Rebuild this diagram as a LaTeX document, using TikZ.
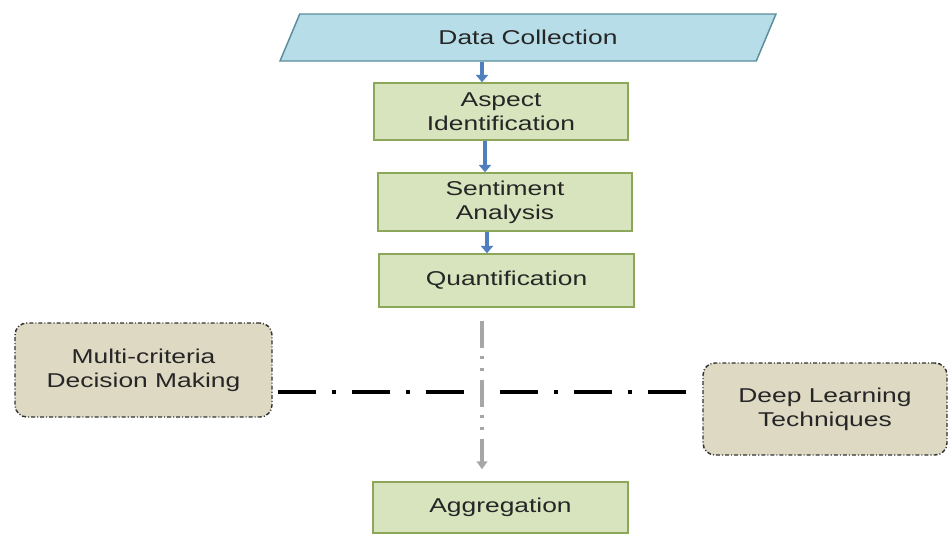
\documentclass[tikz,border=0pt]{standalone}
\usepackage{fontspec}
\setmainfont{Liberation Sans}[FakeStretch=1.32]
\usepackage{xcolor}
\usetikzlibrary{arrows.meta,shapes.geometric}

\definecolor{boxgreen}{HTML}{D7E4BD}
\definecolor{linegreen}{HTML}{8CA65A}
\definecolor{boxblue}{HTML}{B7DDE8}
\definecolor{lineblue}{HTML}{5B8D9C}
\definecolor{boxbeige}{HTML}{DDD9C3}
\definecolor{flowblue}{HTML}{4F7FBF}
\definecolor{guidegray}{HTML}{A6A6A6}
\definecolor{txtgray}{HTML}{262626}

\tikzset{
  stage/.style={draw=linegreen, fill=boxgreen, line width=1.1pt, inner sep=2pt,
    align=center, text=txtgray, font=\fontsize{15}{18}\selectfont},
  method/.style={draw=black!80, fill=boxbeige, line width=1.1pt, rounded corners=9pt,
    dash pattern=on 3pt off 1.5pt on 0.8pt off 1.5pt, align=center, text=txtgray,
    font=\fontsize{15}{18}\selectfont},
  flow/.style={draw=flowblue, line width=3pt, -{Triangle[width=9pt,length=5.5pt]}},
  guide/.style={draw=guidegray, line width=3pt,
    dash pattern=on 20.25pt off 6pt on 2.25pt off 6.75pt on 2.25pt off 6.75pt,
    -{Triangle[width=8pt,length=6pt]}},
  axisline/.style={draw=black, line width=2.5pt,
    dash pattern=on 28.5pt off 12pt on 3pt off 12pt}
}

\begin{document}
\begin{tikzpicture}[x=0.75pt,y=-0.75pt]

\useasboundingbox (0,0) rectangle (949,536);

% main pipeline
\node[trapezium, trapezium left angle=71, trapezium right angle=109,
  trapezium stretches=true, draw=lineblue, fill=boxblue, line width=1.1pt,
  minimum width=372pt, minimum height=35.25pt, text=txtgray,
  font=\fontsize{15}{18}\selectfont] (dc) at (528,37.5) {Data Collection};
\node[stage, minimum width=190.5pt, minimum height=42.75pt] (asp) at (501,111.5) {Aspect\\Identification};
\node[stage, minimum width=190.5pt, minimum height=43.5pt] (sen) at (505,202) {Sentiment\\Analysis};
\node[stage, minimum width=191.25pt, minimum height=39.75pt] (qua) at (506.5,280.5) {Quantification};
\node[stage, minimum width=191.25pt, minimum height=38.25pt] (agg) at (500.5,507.5) {Aggregation};

% side methods
\node[method, minimum width=192.75pt, minimum height=70.5pt] (mcdm) at (143.5,370) {Multi-criteria\\Decision Making};
\node[method, minimum width=183pt, minimum height=69pt] (dlt) at (825,409) {Deep Learning\\Techniques};

\coordinate (cross) at (482,392);

\draw[flow] (dc.south -| 482,0) -- (asp.north -| 482,0);
\draw[flow] (asp.south -| 485,0) -- (sen.north -| 485,0);
\draw[flow] (sen.south -| 487,0) -- (qua.north -| 487,0);

\draw[axisline, shorten <=3.75pt, shorten >=11.25pt] (mcdm.east |- cross) -- (dlt.west |- cross);
\draw[guide, shorten <=9.75pt, shorten >=9pt] (qua.south -| cross) -- (agg.north -| cross);

\end{tikzpicture}
\end{document}
